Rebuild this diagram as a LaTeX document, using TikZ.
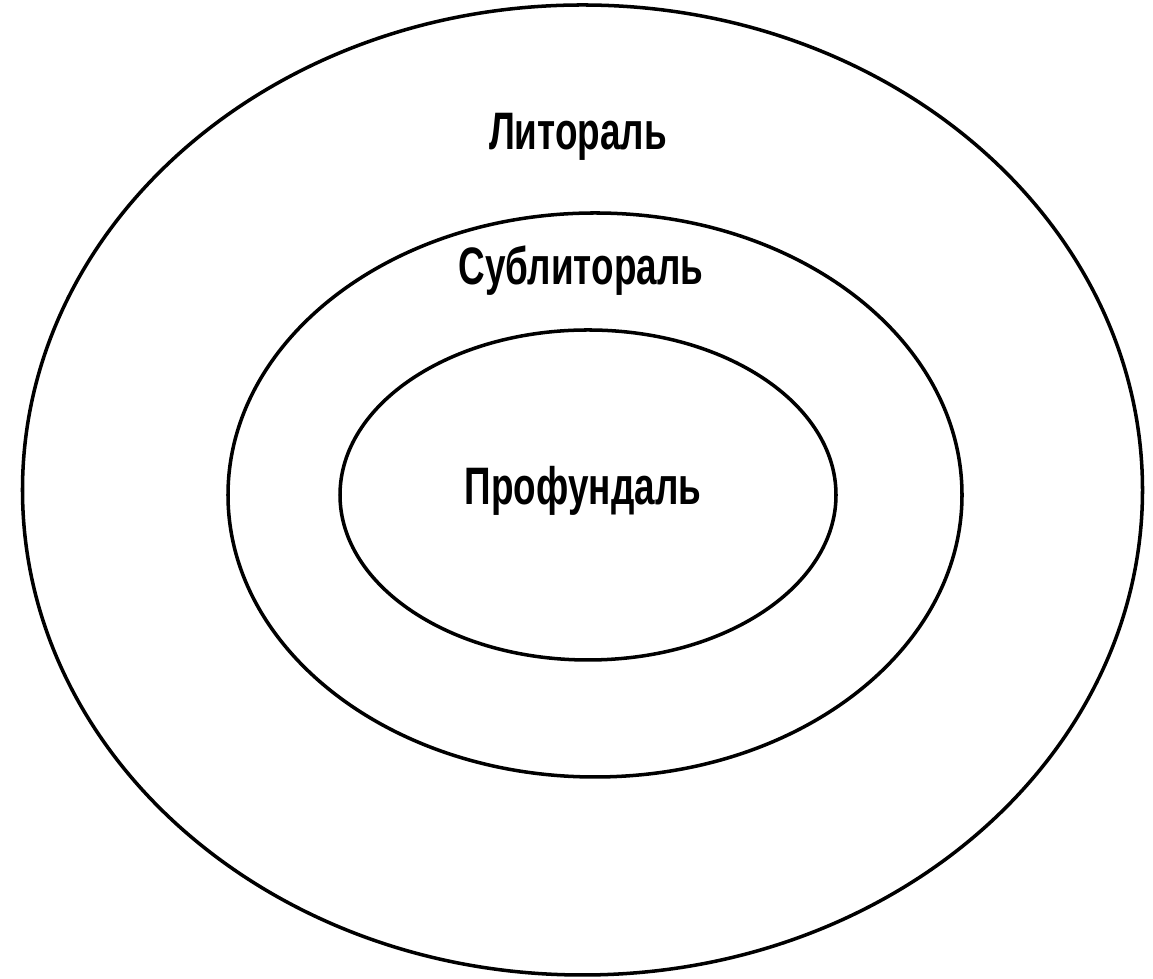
\documentclass[tikz,border=0pt]{standalone}
\usepackage{fontspec}
\setmainfont{Liberation Sans}
\newfontfamily\zonefont[FakeStretch=0.7]{Liberation Sans}
\usepackage{tikz}

\begin{document}
\begin{tikzpicture}[zone/.style={line width=2pt},lbl/.style={anchor=base,inner sep=0pt,font=\zonefont\bfseries\fontsize{30}{32}\selectfont}]
\useasboundingbox (0,0) rectangle (23.06,19.58);
\draw[zone] (11.65,9.78) ellipse [x radius=11.2,y radius=9.7];
\draw[zone] (11.9,9.68) ellipse [x radius=7.34,y radius=5.64];
\draw[zone] (11.76,9.68) ellipse [x radius=4.96,y radius=3.3];
\node[lbl] (lit) at (11.56,16.58) {Литораль};
\node[lbl] (sub) at (11.62,13.88) {Сублитораль};
\node[lbl] (prof) at (11.66,9.48) {Профундаль};
\end{tikzpicture}
\end{document}
